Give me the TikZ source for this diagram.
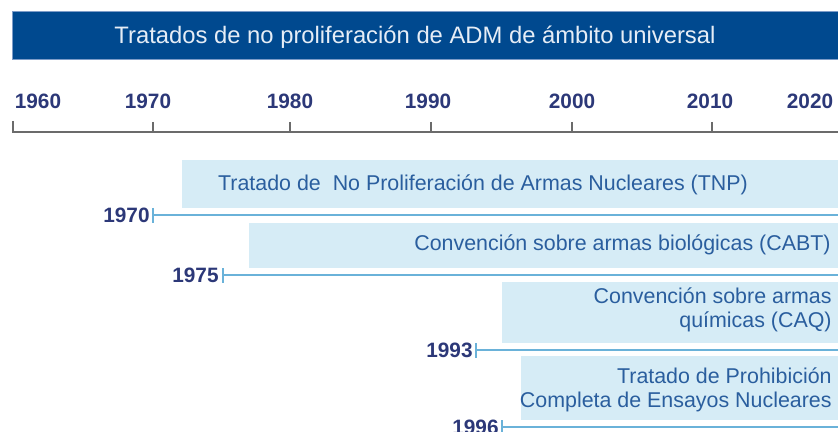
\documentclass[tikz,border=0pt]{standalone}
\usepackage{fontspec}
\setmainfont{Liberation Sans}
\usetikzlibrary{positioning}
\definecolor{barblue}{HTML}{00498F}
\definecolor{barrim}{HTML}{7D9CC8}
\definecolor{titlefg}{HTML}{E6EDF6}
\definecolor{navy}{HTML}{2C3878}
\definecolor{axisgray}{HTML}{6B6B6B}
\definecolor{paleblue}{HTML}{D6ECF6}
\definecolor{treatyfg}{HTML}{2A5E9E}
\definecolor{lineblue}{HTML}{6AB2D9}

\tikzset{
  yearlab/.style={text=navy,font=\fontsize{10.4}{12}\selectfont\bfseries,inner sep=0pt},
  treatybox/.style={fill=paleblue,draw=none},
  treatytext/.style={text=treatyfg,font=\fontsize{10.7}{12.2}\selectfont,inner sep=0pt,align=right},
  tline/.style={lineblue,line width=1.4pt},
  tick/.style={lineblue,line width=0.8pt}
}

\begin{document}
\begin{tikzpicture}[x=0.5pt,y=-0.5pt]
\useasboundingbox (0,0) rectangle (838,432);

% title bar
\draw[barrim,fill=barblue,line width=0.5pt] (12,12) rectangle (842,60);
\node[text=titlefg,font=\fontsize{11.9}{14}\selectfont,inner sep=0pt] (title) at (415,37)
  {Tratados de no proliferación de ADM de ámbito universal};

% axis
\draw[axisgray,line width=1pt] (13,121) -- (13,132) -- (840,132);
\foreach \x in {153,290,431,572,712}
  \draw[axisgray,line width=1pt] (\x,122) -- (\x,132);
\foreach \x/\yr in {38/1960,148/1970,290/1980,428/1990,572/2000,710/2010,810/2020}
  \node[yearlab] (ax\yr) at (\x,101) {\yr};

% TNP
\fill[treatybox] (182,160) rectangle (840,208);
\node[treatytext] (tnp) at (483,185) {Tratado de\ \ No Proliferación de Armas Nucleares (TNP)};
\coordinate (s70) at (153,215);
\coordinate (e70) at (840,215);
\draw[tline] (s70) -- (e70);
\draw[tick] ([yshift=3.5pt]s70) -- ([yshift=-4pt]s70);
\node[yearlab,anchor=east] (y70) at (150,215) {1970};

% CABT
\fill[treatybox] (249,223) rectangle (840,268);
\node[treatytext,anchor=east] (cabt) at (831,245) {Convención sobre armas biológicas (CABT)};
\coordinate (s75) at (223,275);
\coordinate (e75) at (840,275);
\draw[tline] (s75) -- (e75);
\draw[tick] ([yshift=3.5pt]s75) -- ([yshift=-4pt]s75);
\node[yearlab,anchor=east] (y75) at (219,275) {1975};

% CAQ
\fill[treatybox] (502,282) rectangle (840,343);
\node[treatytext,anchor=east] (caq) at (832,310) {Convención sobre armas\\químicas (CAQ)};
\coordinate (s93) at (476,350);
\coordinate (e93) at (840,350);
\draw[tline] (s93) -- (e93);
\draw[tick] ([yshift=3.5pt]s93) -- ([yshift=-4pt]s93);
\node[yearlab,anchor=east] (y93) at (473,350) {1993};

% TPCE
\fill[treatybox] (521,356) rectangle (840,420);
\node[treatytext,anchor=east] (tpce) at (832,390) {Tratado de Prohibición\\Completa de Ensayos Nucleares};
\coordinate (s96) at (502,427);
\coordinate (e96) at (840,427);
\draw[tline] (s96) -- (e96);
\draw[tick] ([yshift=3.5pt]s96) -- ([yshift=-4pt]s96);
\node[yearlab,anchor=east] (y96) at (499,427) {1996};
\end{tikzpicture}
\end{document}
